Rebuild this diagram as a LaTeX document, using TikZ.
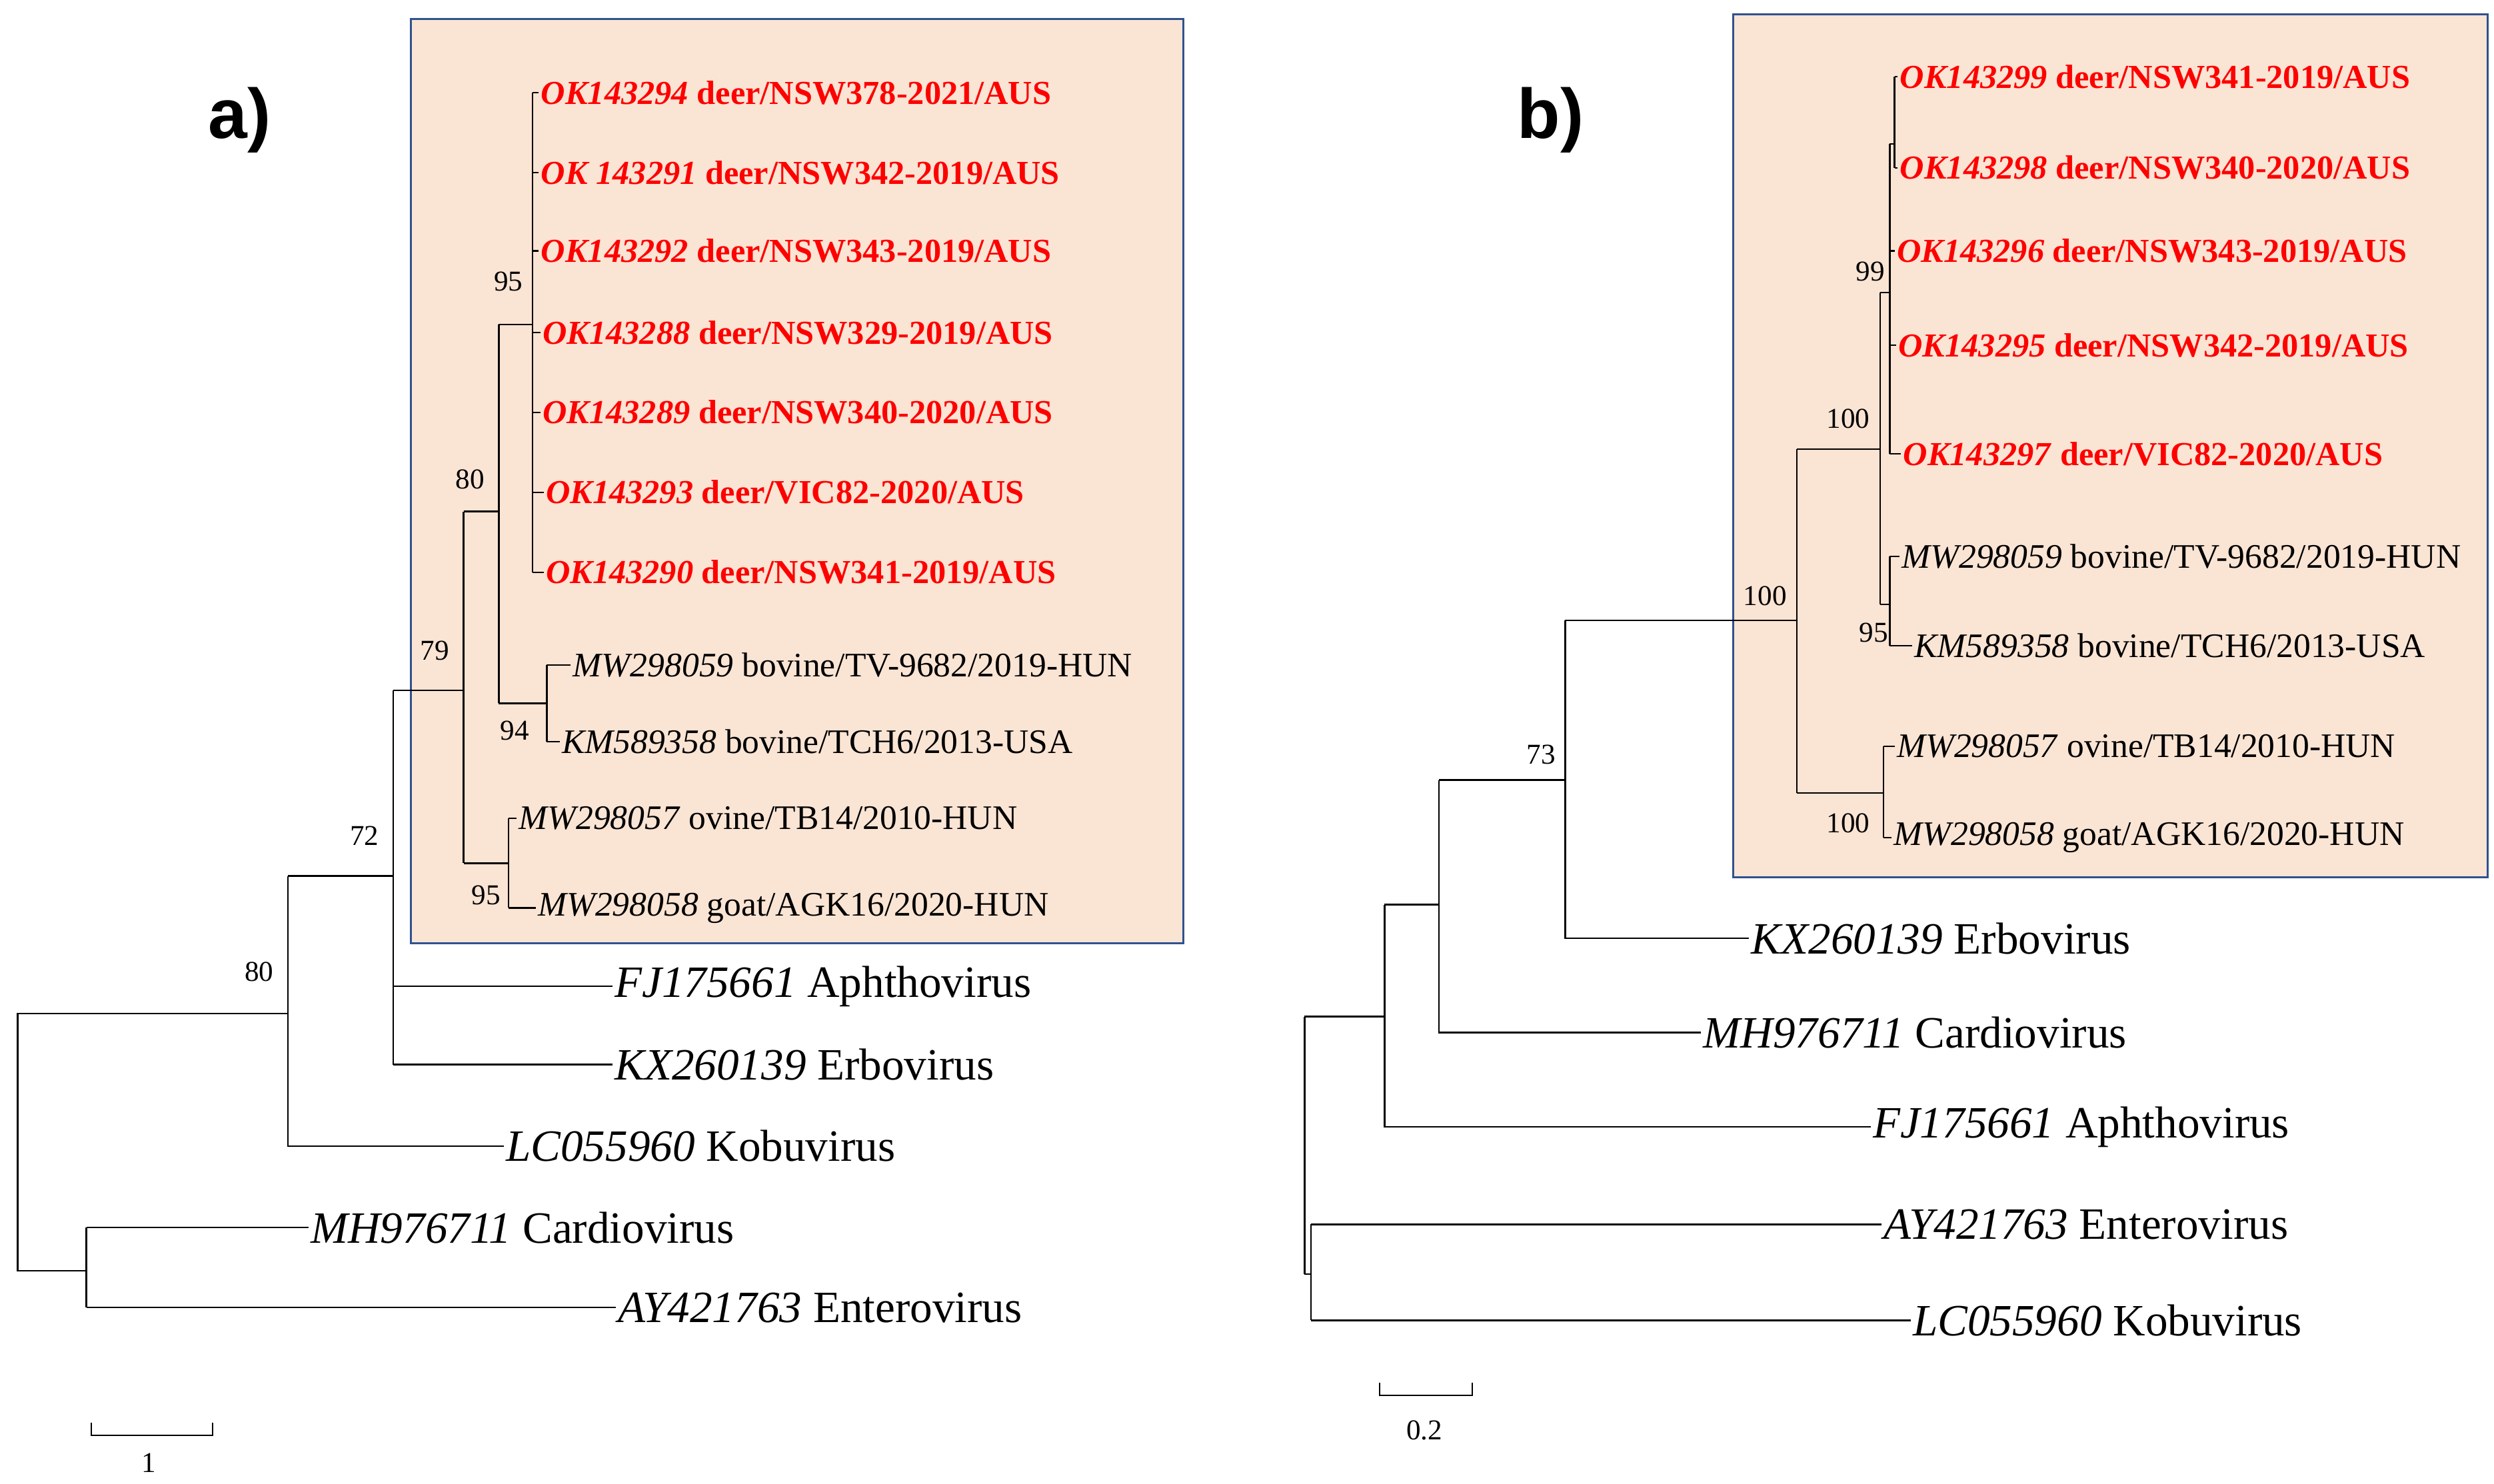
\documentclass[tikz,border=0pt]{standalone}
\usepackage{fontspec}
\setmainfont{Liberation Serif}
\newfontfamily\panelfont{Liberation Sans}
\definecolor{peach}{RGB}{250,228,212}
\definecolor{boxblue}{RGB}{47,82,143}
\definecolor{tipred}{RGB}{255,0,0}
\begin{document}
\begin{tikzpicture}[x=1pt,y=-1pt,line width=1pt,
  red/.style={anchor=west,inner sep=1pt,text=tipred,font=\fontsize{21}{21}\selectfont\bfseries},
  blk/.style={anchor=west,inner sep=1pt,font=\fontsize{21.5}{21.5}\selectfont},
  big/.style={anchor=west,inner sep=1pt,font=\fontsize{28}{28}\selectfont},
  bs/.style={font=\fontsize{18}{18}\selectfont,inner sep=1pt},
  panel/.style={font=\panelfont\fontsize{44}{44}\selectfont\bfseries}]
\useasboundingbox (0,0) rectangle (1560,928);
\fill[white] (0,0) rectangle (1560,928);
% boxes
\draw[fill=peach,draw=boxblue,line width=1.2pt] (257,12) rectangle (740,590);
\draw[fill=peach,draw=boxblue,line width=1.2pt] (1084,9) rectangle (1556,549);
\node[panel] at (150,75) {a)};
\node[panel] at (970,75) {b)};
% ---------- tree a
\draw (54,795) -- (11,795) -- (11,634) -- (180,634);
\draw (54,768) -- (54,818);
\draw (54,768) -- (193,768) node[big] (ta1) {\textit{MH976711} Cardiovirus};
\draw (54,818) -- (385,818) node[big] (ta2) {\textit{AY421763} Enterovirus};
\draw (180,548) -- (180,717) -- (315,717) node[big] (ta3) {\textit{LC055960} Kobuvirus};
\node[bs] at (162,608) {80};
\draw (180,548) -- (246,548);
\draw (246,432) -- (246,666);
\node[bs] at (228,523) {72};
\draw (246,617) -- (383,617) node[big] (ta4) {\textit{FJ175661} Aphthovirus};
\draw (246,666) -- (383,666) node[big] (ta5) {\textit{KX260139} Erbovirus};
\draw (246,432) -- (290,432);
\node[bs] at (272,407) {79};
\draw (290,320) -- (290,540);
\draw (290,320) -- (312,320);
\node[bs] at (294,300) {80};
\draw (312,203) -- (312,440);
\draw (312,440) -- (342,440);
\draw (342,416) -- (342,464);
\node[bs] at (322,457) {94};
\draw (342,416) -- (357,416) node[blk] {\textit{MW298059} bovine/TV-9682/2019-HUN};
\draw (342,464) -- (350,464) node[blk] {\textit{KM589358} bovine/TCH6/2013-USA};
\draw (290,540) -- (318,540);
\draw (318,512) -- (318,568);
\node[bs] at (304,560) {95};
\draw (318,512) -- (323,512) node[blk] {\textit{MW298057} ovine/TB14/2010-HUN};
\draw (318,568) -- (335,568) node[blk] {\textit{MW298058} goat/AGK16/2020-HUN};
\draw (312,203) -- (333,203);
\node[bs] at (318,176) {95};
\draw (333,58) -- (333,358);
\draw (333,58) -- (337,58) node[red] {\textit{OK143294} deer/NSW378-2021/AUS};
\draw (333,108) -- (337,108) node[red] {\textit{OK 143291} deer/NSW342-2019/AUS};
\draw (333,157) -- (337,157) node[red] {\textit{OK143292} deer/NSW343-2019/AUS};
\draw (333,208) -- (338,208) node[red] {\textit{OK143288} deer/NSW329-2019/AUS};
\draw (333,258) -- (338,258) node[red] {\textit{OK143289} deer/NSW340-2020/AUS};
\draw (333,308) -- (340,308) node[red] {\textit{OK143293} deer/VIC82-2020/AUS};
\draw (333,358) -- (340,358) node[red] {\textit{OK143290} deer/NSW341-2019/AUS};
% scale a
\draw (57,890) -- (57,898) -- (133,898) -- (133,890);
\node[bs] at (93,915) {1};
% ---------- tree b
\draw (816,636) -- (816,797);
\draw (816,636) -- (866,636);
\draw (816,797) -- (820,797);
\draw (820,766) -- (820,826);
\draw (820,766) -- (1177,766) node[big] {\textit{AY421763} Enterovirus};
\draw (820,826) -- (1195,826) node[big] {\textit{LC055960} Kobuvirus};
\draw (866,566) -- (866,705) -- (1170,705) node[big] {\textit{FJ175661} Aphthovirus};
\draw (866,566) -- (900,566);
\draw (900,488) -- (900,646) -- (1064,646) node[big] {\textit{MH976711} Cardiovirus};
\draw (900,488) -- (979,488);
\node[bs] at (964,472) {73};
\draw (979,388) -- (979,587) -- (1094,587) node[big] {\textit{KX260139} Erbovirus};
\draw (979,388) -- (1124,388);
\node[bs] at (1104,373) {100};
\draw (1124,281) -- (1124,496);
\draw (1124,496) -- (1178,496);
\draw (1178,467) -- (1178,524);
\node[bs] at (1156,515) {100};
\draw (1178,467) -- (1185,467) node[blk] {\textit{MW298057} ovine/TB14/2010-HUN};
\draw (1178,524) -- (1183,524) node[blk] {\textit{MW298058} goat/AGK16/2020-HUN};
\draw (1124,281) -- (1176,281);
\node[bs] at (1156,262) {100};
\draw (1176,183) -- (1176,378);
\draw (1176,378) -- (1182,378);
\draw (1182,348) -- (1182,404);
\node[bs] at (1172,396) {95};
\draw (1182,348) -- (1188,348) node[blk] {\textit{MW298059} bovine/TV-9682/2019-HUN};
\draw (1182,404) -- (1196,404) node[blk] {\textit{KM589358} bovine/TCH6/2013-USA};
\draw (1176,183) -- (1182,183);
\node[bs] at (1170,170) {99};
\draw (1182,90) -- (1182,284);
\draw (1182,90) -- (1185,90);
\draw (1185,48) -- (1185,105);
\draw (1185,48) -- (1187,48) node[red] {\textit{OK143299} deer/NSW341-2019/AUS};
\draw (1185,105) -- (1187,105) node[red] {\textit{OK143298} deer/NSW340-2020/AUS};
\draw (1182,157) -- (1185,157) node[red] {\textit{OK143296} deer/NSW343-2019/AUS};
\draw (1182,216) -- (1186,216) node[red] {\textit{OK143295} deer/NSW342-2019/AUS};
\draw (1182,284) -- (1189,284) node[red] {\textit{OK143297} deer/VIC82-2020/AUS};
% scale b
\draw (863,865) -- (863,873) -- (921,873) -- (921,865);
\node[bs] at (891,895) {0.2};
\end{tikzpicture}
\end{document}
